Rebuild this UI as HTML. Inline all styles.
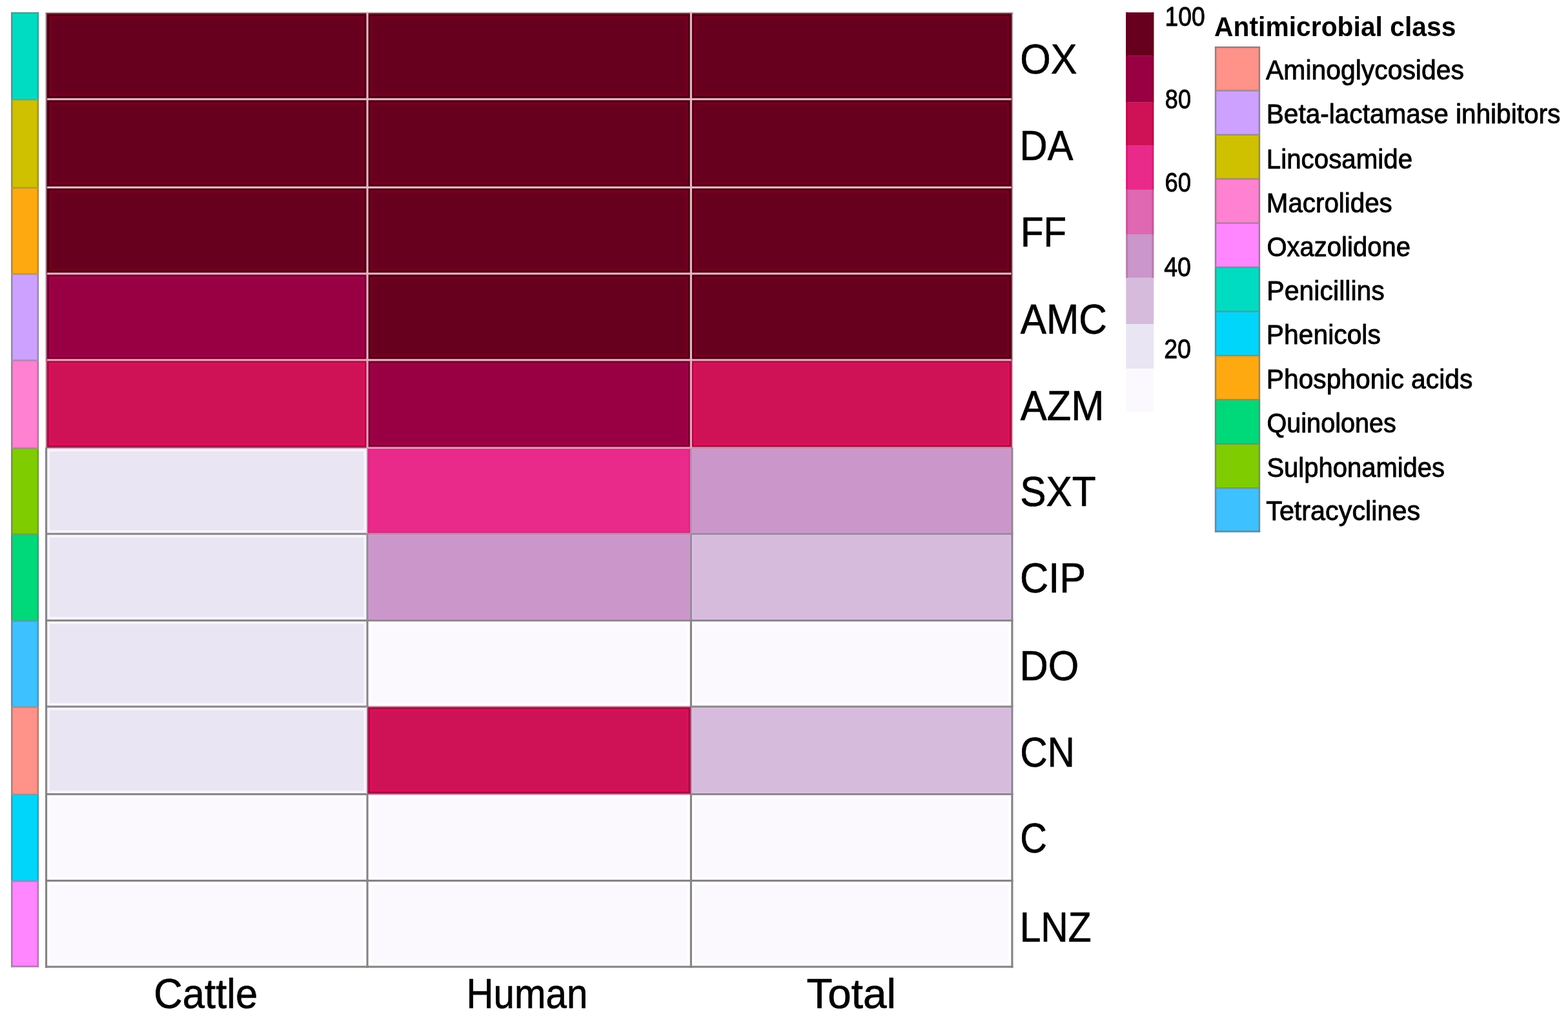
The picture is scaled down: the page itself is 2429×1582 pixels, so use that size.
<!DOCTYPE html>
<html lang="en">
<head>
<meta charset="utf-8">
<title>Antimicrobial resistance heatmap</title>
<style>
html,body{margin:0;padding:0;background:#fff;}
body{width:2429px;height:1582px;overflow:hidden;}
svg{display:block;filter:blur(0.7px);}
text{font-family:"Liberation Sans",sans-serif;fill:#000;}
</style>
</head>
<body>
<svg width="2429" height="1582" viewBox="0 0 2429 1582" role="img" aria-label="Heatmap of antimicrobial resistance by source">
<rect x="0" y="0" width="2429" height="1582" fill="#ffffff"/>
<g id="row-annotation">
<rect x="17.0" y="18.9" width="43.1" height="135.4" fill="#00DCC2"/>
<rect x="17.0" y="18.9" width="2.6" height="135.4" fill="#3EA195"/>
<rect x="57.5" y="18.9" width="2.6" height="135.4" fill="#3EA195"/>
<rect x="17.0" y="154.3" width="43.1" height="136.7" fill="#CFC000"/>
<rect x="17.0" y="154.3" width="2.6" height="136.7" fill="#9B943E"/>
<rect x="57.5" y="154.3" width="2.6" height="136.7" fill="#9B943E"/>
<rect x="17.0" y="291.0" width="43.1" height="133.6" fill="#FEA910"/>
<rect x="17.0" y="291.0" width="2.6" height="133.6" fill="#B08A45"/>
<rect x="57.5" y="291.0" width="2.6" height="133.6" fill="#B08A45"/>
<rect x="17.0" y="424.6" width="43.1" height="133.8" fill="#CDA1FF"/>
<rect x="17.0" y="424.6" width="2.6" height="133.8" fill="#9A86B0"/>
<rect x="57.5" y="424.6" width="2.6" height="133.8" fill="#9A86B0"/>
<rect x="17.0" y="558.4" width="43.1" height="136.2" fill="#FF81D1"/>
<rect x="17.0" y="558.4" width="2.6" height="136.2" fill="#B0789C"/>
<rect x="57.5" y="558.4" width="2.6" height="136.2" fill="#B0789C"/>
<rect x="17.0" y="694.6" width="43.1" height="133.2" fill="#7FCD00"/>
<rect x="17.0" y="694.6" width="2.6" height="133.2" fill="#779A3E"/>
<rect x="57.5" y="694.6" width="2.6" height="133.2" fill="#779A3E"/>
<rect x="17.0" y="827.8" width="43.1" height="134.2" fill="#00D979"/>
<rect x="17.0" y="827.8" width="2.6" height="134.2" fill="#3E9F74"/>
<rect x="57.5" y="827.8" width="2.6" height="134.2" fill="#3E9F74"/>
<rect x="17.0" y="962.0" width="43.1" height="133.5" fill="#3DC1FF"/>
<rect x="17.0" y="962.0" width="2.6" height="133.5" fill="#5994B0"/>
<rect x="57.5" y="962.0" width="2.6" height="133.5" fill="#5994B0"/>
<rect x="17.0" y="1095.5" width="43.1" height="135.7" fill="#FF9289"/>
<rect x="17.0" y="1095.5" width="2.6" height="135.7" fill="#B07F7B"/>
<rect x="57.5" y="1095.5" width="2.6" height="135.7" fill="#B07F7B"/>
<rect x="17.0" y="1231.2" width="43.1" height="134.0" fill="#00D5FA"/>
<rect x="17.0" y="1231.2" width="2.6" height="134.0" fill="#3E9DAE"/>
<rect x="57.5" y="1231.2" width="2.6" height="134.0" fill="#3E9DAE"/>
<rect x="17.0" y="1365.2" width="43.1" height="133.4" fill="#FF86FF"/>
<rect x="17.0" y="1365.2" width="2.6" height="133.4" fill="#B07AB0"/>
<rect x="57.5" y="1365.2" width="2.6" height="133.4" fill="#B07AB0"/>
<rect x="17.0" y="18.90" width="43.1" height="2.6" fill="#49A197"/>
<rect x="17.0" y="153.00" width="43.1" height="2.6" fill="#70A86C"/>
<rect x="17.0" y="289.70" width="43.1" height="2.6" fill="#B59A3B"/>
<rect x="17.0" y="423.30" width="43.1" height="2.6" fill="#B59282"/>
<rect x="17.0" y="557.10" width="43.1" height="2.6" fill="#B587B6"/>
<rect x="17.0" y="693.30" width="43.1" height="2.6" fill="#A09370"/>
<rect x="17.0" y="826.50" width="43.1" height="2.6" fill="#5AAB58"/>
<rect x="17.0" y="960.70" width="43.1" height="2.6" fill="#47A89E"/>
<rect x="17.0" y="1094.20" width="43.1" height="2.6" fill="#8E94A3"/>
<rect x="17.0" y="1229.90" width="43.1" height="2.6" fill="#7D9AA2"/>
<rect x="17.0" y="1363.90" width="43.1" height="2.6" fill="#7D97C2"/>
<rect x="17.0" y="1496.00" width="43.1" height="2.6" fill="#AF7FAF"/>
</g>
<g id="heatmap">
<rect x="71.60" y="20.10" width="497.50" height="133.60" fill="#4C0012"/>
<rect x="76.35" y="24.85" width="488.00" height="124.10" fill="#74001D"/>
<rect x="79.85" y="28.35" width="481.00" height="117.10" fill="#67001F"/>
<rect x="569.10" y="20.10" width="501.30" height="133.60" fill="#4C0012"/>
<rect x="573.85" y="24.85" width="491.80" height="124.10" fill="#74001D"/>
<rect x="577.35" y="28.35" width="484.80" height="117.10" fill="#67001F"/>
<rect x="1070.40" y="20.10" width="497.50" height="133.60" fill="#4C0012"/>
<rect x="1075.15" y="24.85" width="488.00" height="124.10" fill="#74001D"/>
<rect x="1078.65" y="28.35" width="481.00" height="117.10" fill="#67001F"/>
<rect x="71.60" y="153.70" width="497.50" height="136.70" fill="#4C0012"/>
<rect x="76.35" y="158.45" width="488.00" height="127.20" fill="#74001D"/>
<rect x="79.85" y="161.95" width="481.00" height="120.20" fill="#67001F"/>
<rect x="569.10" y="153.70" width="501.30" height="136.70" fill="#4C0012"/>
<rect x="573.85" y="158.45" width="491.80" height="127.20" fill="#74001D"/>
<rect x="577.35" y="161.95" width="484.80" height="120.20" fill="#67001F"/>
<rect x="1070.40" y="153.70" width="497.50" height="136.70" fill="#4C0012"/>
<rect x="1075.15" y="158.45" width="488.00" height="127.20" fill="#74001D"/>
<rect x="1078.65" y="161.95" width="481.00" height="120.20" fill="#67001F"/>
<rect x="71.60" y="290.40" width="497.50" height="133.60" fill="#4C0012"/>
<rect x="76.35" y="295.15" width="488.00" height="124.10" fill="#74001D"/>
<rect x="79.85" y="298.65" width="481.00" height="117.10" fill="#67001F"/>
<rect x="569.10" y="290.40" width="501.30" height="133.60" fill="#4C0012"/>
<rect x="573.85" y="295.15" width="491.80" height="124.10" fill="#74001D"/>
<rect x="577.35" y="298.65" width="484.80" height="117.10" fill="#67001F"/>
<rect x="1070.40" y="290.40" width="497.50" height="133.60" fill="#4C0012"/>
<rect x="1075.15" y="295.15" width="488.00" height="124.10" fill="#74001D"/>
<rect x="1078.65" y="298.65" width="481.00" height="117.10" fill="#67001F"/>
<rect x="71.60" y="424.00" width="497.50" height="133.80" fill="#74002F"/>
<rect x="76.15" y="428.55" width="488.40" height="124.70" fill="#A20048"/>
<rect x="79.15" y="431.55" width="482.40" height="118.70" fill="#990043"/>
<rect x="569.10" y="424.00" width="501.30" height="133.80" fill="#4C0012"/>
<rect x="573.85" y="428.75" width="491.80" height="124.30" fill="#74001D"/>
<rect x="577.35" y="432.25" width="484.80" height="117.30" fill="#67001F"/>
<rect x="1070.40" y="424.00" width="497.50" height="133.80" fill="#4C0012"/>
<rect x="1075.15" y="428.75" width="488.00" height="124.30" fill="#74001D"/>
<rect x="1078.65" y="432.25" width="481.00" height="117.30" fill="#67001F"/>
<rect x="71.60" y="557.80" width="497.50" height="136.20" fill="#9A1040"/>
<rect x="75.55" y="561.75" width="489.60" height="128.30" fill="#E20D58"/>
<rect x="78.55" y="564.75" width="483.60" height="122.30" fill="#CF1256"/>
<rect x="569.10" y="557.80" width="501.30" height="136.20" fill="#74002F"/>
<rect x="573.65" y="562.35" width="492.20" height="127.10" fill="#A20048"/>
<rect x="576.65" y="565.35" width="486.20" height="121.10" fill="#990043"/>
<rect x="1070.40" y="557.80" width="497.50" height="136.20" fill="#9A1040"/>
<rect x="1074.35" y="561.75" width="489.60" height="128.30" fill="#E20D58"/>
<rect x="1077.35" y="564.75" width="483.60" height="122.30" fill="#CF1256"/>
<rect x="71.60" y="694.00" width="497.50" height="133.20" fill="#F8F6FC"/>
<rect x="77.15" y="699.55" width="486.40" height="122.10" fill="#EAE5F2"/>
<rect x="569.10" y="694.00" width="501.30" height="133.20" fill="#D0247C"/>
<rect x="572.15" y="697.05" width="495.20" height="127.10" fill="#EA2A8B"/>
<rect x="1070.40" y="694.00" width="497.50" height="133.20" fill="#CF9DCE"/>
<rect x="1073.45" y="697.05" width="491.40" height="127.10" fill="#CB96CA"/>
<rect x="71.60" y="827.20" width="497.50" height="134.20" fill="#F8F6FC"/>
<rect x="77.15" y="832.75" width="486.40" height="123.10" fill="#EAE5F2"/>
<rect x="569.10" y="827.20" width="501.30" height="134.20" fill="#CF9DCE"/>
<rect x="572.15" y="830.25" width="495.20" height="128.10" fill="#CB96CA"/>
<rect x="1070.40" y="827.20" width="497.50" height="134.20" fill="#DBC3E1"/>
<rect x="1073.95" y="830.75" width="490.40" height="127.10" fill="#D6BBDD"/>
<rect x="71.60" y="961.40" width="497.50" height="133.50" fill="#F8F6FC"/>
<rect x="77.15" y="966.95" width="486.40" height="122.40" fill="#EAE5F2"/>
<rect x="569.10" y="961.40" width="501.30" height="133.50" fill="#FFFFFF"/>
<rect x="574.65" y="966.95" width="490.20" height="122.40" fill="#FBF9FD"/>
<rect x="1070.40" y="961.40" width="497.50" height="133.50" fill="#FFFFFF"/>
<rect x="1075.95" y="966.95" width="486.40" height="122.40" fill="#FBF9FD"/>
<rect x="71.60" y="1094.90" width="497.50" height="135.70" fill="#F8F6FC"/>
<rect x="77.15" y="1100.45" width="486.40" height="124.60" fill="#EAE5F2"/>
<rect x="569.10" y="1094.90" width="501.30" height="135.70" fill="#9A1040"/>
<rect x="573.05" y="1098.85" width="493.40" height="127.80" fill="#E20D58"/>
<rect x="576.05" y="1101.85" width="487.40" height="121.80" fill="#CF1256"/>
<rect x="1070.40" y="1094.90" width="497.50" height="135.70" fill="#DBC3E1"/>
<rect x="1073.95" y="1098.45" width="490.40" height="128.60" fill="#D6BBDD"/>
<rect x="71.60" y="1230.60" width="497.50" height="134.00" fill="#FFFFFF"/>
<rect x="77.15" y="1236.15" width="486.40" height="122.90" fill="#FBF9FD"/>
<rect x="569.10" y="1230.60" width="501.30" height="134.00" fill="#FFFFFF"/>
<rect x="574.65" y="1236.15" width="490.20" height="122.90" fill="#FBF9FD"/>
<rect x="1070.40" y="1230.60" width="497.50" height="134.00" fill="#FFFFFF"/>
<rect x="1075.95" y="1236.15" width="486.40" height="122.90" fill="#FBF9FD"/>
<rect x="71.60" y="1364.60" width="497.50" height="133.40" fill="#FFFFFF"/>
<rect x="77.15" y="1370.15" width="486.40" height="122.30" fill="#FBF9FD"/>
<rect x="569.10" y="1364.60" width="501.30" height="133.40" fill="#FFFFFF"/>
<rect x="574.65" y="1370.15" width="490.20" height="122.30" fill="#FBF9FD"/>
<rect x="1070.40" y="1364.60" width="497.50" height="133.40" fill="#FFFFFF"/>
<rect x="1075.95" y="1370.15" width="486.40" height="122.30" fill="#FBF9FD"/>
<rect x="70.05" y="18.55" width="499.05" height="1.55" fill="#D9BFC7"/>
<rect x="70.05" y="20.10" width="499.05" height="1.55" fill="#79404D"/>
<rect x="569.10" y="18.55" width="501.30" height="1.55" fill="#D9BFC7"/>
<rect x="569.10" y="20.10" width="501.30" height="1.55" fill="#79404D"/>
<rect x="1070.40" y="18.55" width="499.05" height="1.55" fill="#D9BFC7"/>
<rect x="1070.40" y="20.10" width="499.05" height="1.55" fill="#79404D"/>
<rect x="70.05" y="152.15" width="499.05" height="3.10" fill="#EBB7C7"/>
<rect x="569.10" y="152.15" width="501.30" height="3.10" fill="#EBB7C7"/>
<rect x="1070.40" y="152.15" width="499.05" height="3.10" fill="#EBB7C7"/>
<rect x="70.05" y="288.85" width="499.05" height="3.10" fill="#EBB7C7"/>
<rect x="569.10" y="288.85" width="501.30" height="3.10" fill="#EBB7C7"/>
<rect x="1070.40" y="288.85" width="499.05" height="3.10" fill="#EBB7C7"/>
<rect x="70.05" y="422.45" width="499.05" height="3.10" fill="#EFAFC7"/>
<rect x="569.10" y="422.45" width="501.30" height="3.10" fill="#EBB7C7"/>
<rect x="1070.40" y="422.45" width="499.05" height="3.10" fill="#EBB7C7"/>
<rect x="70.05" y="556.25" width="499.05" height="3.10" fill="#F39EBF"/>
<rect x="569.10" y="556.25" width="501.30" height="3.10" fill="#EFAFC7"/>
<rect x="1070.40" y="556.25" width="499.05" height="3.10" fill="#EFA6BF"/>
<rect x="70.05" y="694.00" width="499.05" height="1.55" fill="#E2AAC6"/>
<rect x="70.05" y="692.45" width="499.05" height="1.55" fill="#AC3F67"/>
<rect x="569.10" y="692.45" width="501.30" height="3.10" fill="#ED97C0"/>
<rect x="1070.40" y="692.45" width="499.05" height="3.10" fill="#CA8EAC"/>
<rect x="70.05" y="825.65" width="499.05" height="3.10" fill="#89868D"/>
<rect x="569.10" y="825.65" width="501.30" height="3.10" fill="#C487AC"/>
<rect x="1070.40" y="825.65" width="499.05" height="3.10" fill="#9D899F"/>
<rect x="70.05" y="959.85" width="499.05" height="3.10" fill="#89868D"/>
<rect x="569.10" y="959.85" width="501.30" height="3.10" fill="#948795"/>
<rect x="1070.40" y="959.85" width="499.05" height="3.10" fill="#8D8690"/>
<rect x="70.05" y="1093.35" width="499.05" height="3.10" fill="#89868D"/>
<rect x="569.10" y="1093.35" width="501.30" height="1.55" fill="#EFB8CE"/>
<rect x="569.10" y="1094.90" width="501.30" height="1.55" fill="#AF436A"/>
<rect x="1070.40" y="1093.35" width="499.05" height="3.10" fill="#8D8690"/>
<rect x="70.05" y="1229.05" width="499.05" height="3.10" fill="#868589"/>
<rect x="569.10" y="1230.60" width="501.30" height="1.55" fill="#EFB8CE"/>
<rect x="569.10" y="1229.05" width="501.30" height="1.55" fill="#AF436A"/>
<rect x="1070.40" y="1229.05" width="499.05" height="3.10" fill="#8D8690"/>
<rect x="70.05" y="1363.05" width="499.05" height="3.10" fill="#848385"/>
<rect x="569.10" y="1363.05" width="501.30" height="3.10" fill="#848385"/>
<rect x="1070.40" y="1363.05" width="499.05" height="3.10" fill="#848385"/>
<rect x="70.05" y="1496.45" width="499.05" height="3.10" fill="#838384"/>
<rect x="569.10" y="1496.45" width="501.30" height="3.10" fill="#838384"/>
<rect x="1070.40" y="1496.45" width="499.05" height="3.10" fill="#838384"/>
<rect x="70.05" y="20.10" width="1.55" height="133.60" fill="#D9BFC7"/>
<rect x="71.60" y="20.10" width="1.55" height="133.60" fill="#79404D"/>
<rect x="70.05" y="153.70" width="1.55" height="136.70" fill="#D9BFC7"/>
<rect x="71.60" y="153.70" width="1.55" height="136.70" fill="#79404D"/>
<rect x="70.05" y="290.40" width="1.55" height="133.60" fill="#D9BFC7"/>
<rect x="71.60" y="290.40" width="1.55" height="133.60" fill="#79404D"/>
<rect x="70.05" y="424.00" width="1.55" height="133.80" fill="#E6BFD0"/>
<rect x="71.60" y="424.00" width="1.55" height="133.80" fill="#974063"/>
<rect x="70.05" y="557.80" width="1.55" height="136.20" fill="#F3C4D5"/>
<rect x="71.60" y="557.80" width="1.55" height="136.20" fill="#B34C70"/>
<rect x="70.05" y="694.00" width="3.10" height="133.20" fill="#868488"/>
<rect x="70.05" y="827.20" width="3.10" height="134.20" fill="#868488"/>
<rect x="70.05" y="961.40" width="3.10" height="133.50" fill="#868488"/>
<rect x="70.05" y="1094.90" width="3.10" height="135.70" fill="#868488"/>
<rect x="70.05" y="1230.60" width="3.10" height="134.00" fill="#838384"/>
<rect x="70.05" y="1364.60" width="3.10" height="134.95" fill="#838384"/>
<rect x="567.55" y="18.55" width="3.10" height="135.15" fill="#EBB7C7"/>
<rect x="567.55" y="153.70" width="3.10" height="136.70" fill="#EBB7C7"/>
<rect x="567.55" y="290.40" width="3.10" height="133.60" fill="#EBB7C7"/>
<rect x="567.55" y="424.00" width="3.10" height="133.80" fill="#EFAFC7"/>
<rect x="567.55" y="557.80" width="3.10" height="136.20" fill="#F39EBF"/>
<rect x="567.55" y="694.00" width="1.55" height="133.20" fill="#EAB1D5"/>
<rect x="569.10" y="694.00" width="1.55" height="133.20" fill="#D64E96"/>
<rect x="567.55" y="827.20" width="3.10" height="134.20" fill="#978898"/>
<rect x="567.55" y="961.40" width="3.10" height="133.50" fill="#868589"/>
<rect x="567.55" y="1094.90" width="1.55" height="135.70" fill="#E2AAC6"/>
<rect x="569.10" y="1094.90" width="1.55" height="135.70" fill="#AC3F67"/>
<rect x="567.55" y="1230.60" width="3.10" height="134.00" fill="#848385"/>
<rect x="567.55" y="1364.60" width="3.10" height="134.95" fill="#848385"/>
<rect x="1068.85" y="18.55" width="3.10" height="135.15" fill="#EBB7C7"/>
<rect x="1068.85" y="153.70" width="3.10" height="136.70" fill="#EBB7C7"/>
<rect x="1068.85" y="290.40" width="3.10" height="133.60" fill="#EBB7C7"/>
<rect x="1068.85" y="424.00" width="3.10" height="133.80" fill="#EBB7C7"/>
<rect x="1068.85" y="557.80" width="3.10" height="136.20" fill="#F39EBF"/>
<rect x="1068.85" y="694.00" width="3.10" height="133.20" fill="#C487AC"/>
<rect x="1068.85" y="827.20" width="3.10" height="134.20" fill="#9D899F"/>
<rect x="1068.85" y="961.40" width="3.10" height="133.50" fill="#848385"/>
<rect x="1070.40" y="1094.90" width="1.55" height="135.70" fill="#D48CB7"/>
<rect x="1068.85" y="1094.90" width="1.55" height="135.70" fill="#A73663"/>
<rect x="1068.85" y="1230.60" width="3.10" height="134.00" fill="#848385"/>
<rect x="1068.85" y="1364.60" width="3.10" height="134.95" fill="#848385"/>
<rect x="1567.90" y="20.10" width="1.55" height="133.60" fill="#D9BFC7"/>
<rect x="1566.35" y="20.10" width="1.55" height="133.60" fill="#79404D"/>
<rect x="1567.90" y="153.70" width="1.55" height="136.70" fill="#D9BFC7"/>
<rect x="1566.35" y="153.70" width="1.55" height="136.70" fill="#79404D"/>
<rect x="1567.90" y="290.40" width="1.55" height="133.60" fill="#D9BFC7"/>
<rect x="1566.35" y="290.40" width="1.55" height="133.60" fill="#79404D"/>
<rect x="1567.90" y="424.00" width="1.55" height="133.80" fill="#D9BFC7"/>
<rect x="1566.35" y="424.00" width="1.55" height="133.80" fill="#79404D"/>
<rect x="1567.90" y="557.80" width="1.55" height="136.20" fill="#F3C4D5"/>
<rect x="1566.35" y="557.80" width="1.55" height="136.20" fill="#B34C70"/>
<rect x="1566.35" y="694.00" width="3.10" height="133.20" fill="#948693"/>
<rect x="1566.35" y="827.20" width="3.10" height="134.20" fill="#8C868E"/>
<rect x="1566.35" y="961.40" width="3.10" height="133.50" fill="#838384"/>
<rect x="1566.35" y="1094.90" width="3.10" height="135.70" fill="#8C868E"/>
<rect x="1566.35" y="1230.60" width="3.10" height="134.00" fill="#838384"/>
<rect x="1566.35" y="1364.60" width="3.10" height="134.95" fill="#838384"/>
</g>
<g id="row-labels">
<text transform="translate(1580.19 114.35) scale(0.9355 1)" font-size="65.39" stroke="#000" stroke-width="0.70" stroke-linejoin="round">OX</text>
<text transform="translate(1579.58 247.55) scale(0.9118 1)" font-size="65.39" stroke="#000" stroke-width="0.70" stroke-linejoin="round">DA</text>
<text transform="translate(1580.89 382.25) scale(0.8912 1)" font-size="65.39" stroke="#000" stroke-width="0.70" stroke-linejoin="round">FF</text>
<text transform="translate(1580.85 517.45) scale(0.9225 1)" font-size="65.39" stroke="#000" stroke-width="0.70" stroke-linejoin="round">AMC</text>
<text transform="translate(1580.85 651.05) scale(0.9380 1)" font-size="65.39" stroke="#000" stroke-width="0.70" stroke-linejoin="round">AZM</text>
<text transform="translate(1580.13 783.95) scale(0.9234 1)" font-size="65.39" stroke="#000" stroke-width="0.70" stroke-linejoin="round">SXT</text>
<text transform="translate(1580.09 918.15) scale(0.9363 1)" font-size="65.39" stroke="#000" stroke-width="0.70" stroke-linejoin="round">CIP</text>
<text transform="translate(1579.45 1053.95) scale(0.9366 1)" font-size="65.39" stroke="#000" stroke-width="0.70" stroke-linejoin="round">DO</text>
<text transform="translate(1580.21 1187.65) scale(0.8978 1)" font-size="65.39" stroke="#000" stroke-width="0.70" stroke-linejoin="round">CN</text>
<text transform="translate(1580.27 1321.05) scale(0.8812 1)" font-size="65.39" stroke="#000" stroke-width="0.70" stroke-linejoin="round">C</text>
<text transform="translate(1579.64 1458.65) scale(0.8996 1)" font-size="65.39" stroke="#000" stroke-width="0.70" stroke-linejoin="round">LNZ</text>
</g>
<g id="column-labels">
<text transform="translate(238.37 1562.05) scale(0.9413 1)" font-size="65.39" stroke="#000" stroke-width="0.70" stroke-linejoin="round">Cattle</text>
<text transform="translate(722.49 1562.05) scale(0.8913 1)" font-size="65.39" stroke="#000" stroke-width="0.70" stroke-linejoin="round">Human</text>
<text transform="translate(1249.44 1562.05) scale(1.0035 1)" font-size="65.39" stroke="#000" stroke-width="0.70" stroke-linejoin="round">Total</text>
</g>
<g id="colour-scale">
<rect x="1744.3" y="19.2" width="43.0" height="67.3" fill="#67001F"/>
<rect x="1744.3" y="19.2" width="3.0" height="67.3" fill="#61001D"/>
<rect x="1784.3" y="19.2" width="3.0" height="67.3" fill="#61001D"/>
<rect x="1744.3" y="86.2" width="43.0" height="72.4" fill="#990043"/>
<rect x="1744.3" y="86.2" width="3.0" height="72.4" fill="#8B003B"/>
<rect x="1784.3" y="86.2" width="3.0" height="72.4" fill="#8B003B"/>
<rect x="1744.3" y="158.3" width="43.0" height="67.5" fill="#CF1256"/>
<rect x="1744.3" y="158.3" width="3.0" height="67.5" fill="#B80F4B"/>
<rect x="1784.3" y="158.3" width="3.0" height="67.5" fill="#B80F4B"/>
<rect x="1744.3" y="225.5" width="43.0" height="68.6" fill="#EA2A8B"/>
<rect x="1744.3" y="225.5" width="3.0" height="68.6" fill="#CF2377"/>
<rect x="1784.3" y="225.5" width="3.0" height="68.6" fill="#CF2377"/>
<rect x="1744.3" y="293.8" width="43.0" height="69.5" fill="#E067B2"/>
<rect x="1744.3" y="293.8" width="3.0" height="69.5" fill="#C65798"/>
<rect x="1784.3" y="293.8" width="3.0" height="69.5" fill="#C65798"/>
<rect x="1744.3" y="363.0" width="43.0" height="67.8" fill="#CB96CA"/>
<rect x="1744.3" y="363.0" width="3.0" height="67.8" fill="#B57EAC"/>
<rect x="1784.3" y="363.0" width="3.0" height="67.8" fill="#B57EAC"/>
<rect x="1744.3" y="430.5" width="43.0" height="71.8" fill="#D6BBDD"/>
<rect x="1744.3" y="502.0" width="43.0" height="69.5" fill="#EAE5F2"/>
<rect x="1744.3" y="571.2" width="43.0" height="67.1" fill="#FBF9FD"/>
<text transform="translate(1804.57 39.55) scale(0.8734 1)" font-size="42.70" stroke="#000" stroke-width="0.90" stroke-linejoin="round">100</text>
<text transform="translate(1804.81 167.55) scale(0.8459 1)" font-size="42.70" stroke="#000" stroke-width="0.90" stroke-linejoin="round">80</text>
<text transform="translate(1804.43 297.15) scale(0.8542 1)" font-size="42.70" stroke="#000" stroke-width="0.90" stroke-linejoin="round">60</text>
<text transform="translate(1803.20 427.85) scale(0.8811 1)" font-size="42.70" stroke="#000" stroke-width="0.90" stroke-linejoin="round">40</text>
<text transform="translate(1803.17 555.25) scale(0.8818 1)" font-size="42.70" stroke="#000" stroke-width="0.90" stroke-linejoin="round">20</text>
</g>
<g id="annotation-legend">
<text transform="translate(1881.07 55.80) scale(0.9586 1)" font-size="42.60" font-weight="bold">Antimicrobial class</text>
<rect x="1881.9" y="72.00" width="70.2" height="68.42" fill="#FF9289"/>
<rect x="1881.9" y="72.00" width="2.4" height="68.42" fill="#9C7D7B"/>
<rect x="1949.7" y="72.00" width="2.4" height="68.42" fill="#9C7D7B"/>
<rect x="1881.9" y="140.42" width="70.2" height="68.42" fill="#CDA1FF"/>
<rect x="1881.9" y="140.42" width="2.4" height="68.42" fill="#8E819C"/>
<rect x="1949.7" y="140.42" width="2.4" height="68.42" fill="#8E819C"/>
<rect x="1881.9" y="208.84" width="70.2" height="68.42" fill="#CFC000"/>
<rect x="1881.9" y="208.84" width="2.4" height="68.42" fill="#8E8A54"/>
<rect x="1949.7" y="208.84" width="2.4" height="68.42" fill="#8E8A54"/>
<rect x="1881.9" y="277.26" width="70.2" height="68.42" fill="#FF81D1"/>
<rect x="1881.9" y="277.26" width="2.4" height="68.42" fill="#9C788F"/>
<rect x="1949.7" y="277.26" width="2.4" height="68.42" fill="#9C788F"/>
<rect x="1881.9" y="345.68" width="70.2" height="68.42" fill="#FF86FF"/>
<rect x="1881.9" y="345.68" width="2.4" height="68.42" fill="#9C7A9C"/>
<rect x="1949.7" y="345.68" width="2.4" height="68.42" fill="#9C7A9C"/>
<rect x="1881.9" y="414.10" width="70.2" height="68.42" fill="#00DCC2"/>
<rect x="1881.9" y="414.10" width="2.4" height="68.42" fill="#54928B"/>
<rect x="1949.7" y="414.10" width="2.4" height="68.42" fill="#54928B"/>
<rect x="1881.9" y="482.52" width="70.2" height="68.42" fill="#00D5FA"/>
<rect x="1881.9" y="482.52" width="2.4" height="68.42" fill="#54909A"/>
<rect x="1949.7" y="482.52" width="2.4" height="68.42" fill="#54909A"/>
<rect x="1881.9" y="550.94" width="70.2" height="68.42" fill="#FEA910"/>
<rect x="1881.9" y="550.94" width="2.4" height="68.42" fill="#9B8459"/>
<rect x="1949.7" y="550.94" width="2.4" height="68.42" fill="#9B8459"/>
<rect x="1881.9" y="619.36" width="70.2" height="68.42" fill="#00D979"/>
<rect x="1881.9" y="619.36" width="2.4" height="68.42" fill="#549176"/>
<rect x="1949.7" y="619.36" width="2.4" height="68.42" fill="#549176"/>
<rect x="1881.9" y="687.78" width="70.2" height="68.42" fill="#7FCD00"/>
<rect x="1881.9" y="687.78" width="2.4" height="68.42" fill="#788E54"/>
<rect x="1949.7" y="687.78" width="2.4" height="68.42" fill="#788E54"/>
<rect x="1881.9" y="756.20" width="70.2" height="68.42" fill="#3DC1FF"/>
<rect x="1881.9" y="756.20" width="2.4" height="68.42" fill="#658A9C"/>
<rect x="1949.7" y="756.20" width="2.4" height="68.42" fill="#658A9C"/>
<rect x="1881.9" y="72.00" width="70.2" height="2.4" fill="#987C7A"/>
<rect x="1881.9" y="139.22" width="70.2" height="2.4" fill="#A48696"/>
<rect x="1881.9" y="207.64" width="70.2" height="2.4" fill="#9A8E7B"/>
<rect x="1881.9" y="276.06" width="70.2" height="2.4" fill="#A48872"/>
<rect x="1881.9" y="344.48" width="70.2" height="2.4" fill="#AE7DA5"/>
<rect x="1881.9" y="412.90" width="70.2" height="2.4" fill="#7B8FA2"/>
<rect x="1881.9" y="481.32" width="70.2" height="2.4" fill="#489EA1"/>
<rect x="1881.9" y="549.74" width="70.2" height="2.4" fill="#7B947D"/>
<rect x="1881.9" y="618.16" width="70.2" height="2.4" fill="#7B9563"/>
<rect x="1881.9" y="686.58" width="70.2" height="2.4" fill="#629C60"/>
<rect x="1881.9" y="755.00" width="70.2" height="2.4" fill="#6E987B"/>
<rect x="1881.9" y="822.22" width="70.2" height="2.4" fill="#678898"/>
<text transform="translate(1961.05 123.15) scale(0.9579 1)" font-size="42.70" stroke="#000" stroke-width="0.90" stroke-linejoin="round">Aminoglycosides</text>
<text transform="translate(1961.80 191.25) scale(0.9506 1)" font-size="42.70" stroke="#000" stroke-width="0.90" stroke-linejoin="round">Beta-lactamase inhibitors</text>
<text transform="translate(1961.82 260.55) scale(0.9445 1)" font-size="42.70" stroke="#000" stroke-width="0.90" stroke-linejoin="round">Lincosamide</text>
<text transform="translate(1961.82 328.65) scale(0.9448 1)" font-size="42.70" stroke="#000" stroke-width="0.90" stroke-linejoin="round">Macrolides</text>
<text transform="translate(1962.45 397.45) scale(0.9373 1)" font-size="42.70" stroke="#000" stroke-width="0.90" stroke-linejoin="round">Oxazolidone</text>
<text transform="translate(1962.26 465.35) scale(0.9623 1)" font-size="42.70" stroke="#000" stroke-width="0.90" stroke-linejoin="round">Penicillins</text>
<text transform="translate(1961.78 533.45) scale(0.9568 1)" font-size="42.70" stroke="#000" stroke-width="0.90" stroke-linejoin="round">Phenicols</text>
<text transform="translate(1961.79 601.55) scale(0.9548 1)" font-size="42.70" stroke="#000" stroke-width="0.90" stroke-linejoin="round">Phosphonic acids</text>
<text transform="translate(1962.47 670.05) scale(0.9279 1)" font-size="42.70" stroke="#000" stroke-width="0.90" stroke-linejoin="round">Quinolones</text>
<text transform="translate(1962.45 739.45) scale(0.9362 1)" font-size="42.70" stroke="#000" stroke-width="0.90" stroke-linejoin="round">Sulphonamides</text>
<text transform="translate(1961.22 806.05) scale(0.9680 1)" font-size="42.70" stroke="#000" stroke-width="0.90" stroke-linejoin="round">Tetracyclines</text>
</g>
</svg>
</body>
</html>
